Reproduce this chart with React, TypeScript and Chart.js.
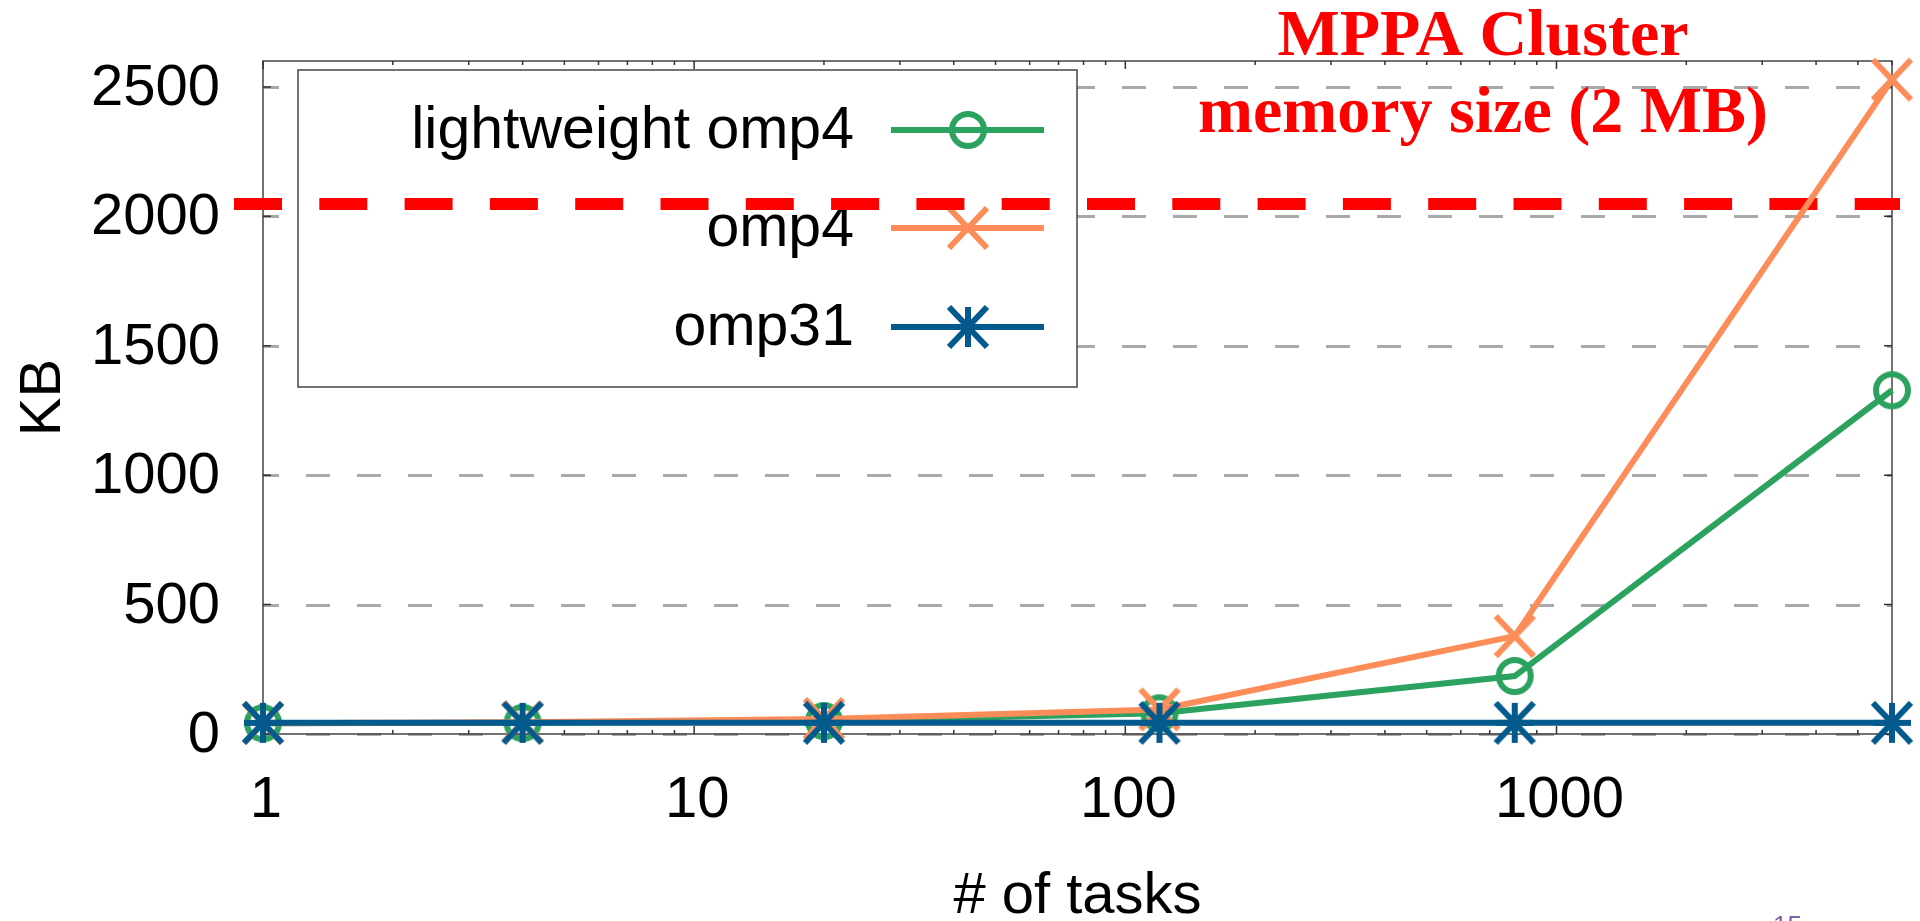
import React, { useEffect, useRef } from 'react';
import { Chart, registerables } from 'chart.js';

Chart.register(...registerables);

// ---------- data ----------
const taskCounts = [1, 4, 20, 120, 800, 6000];
const lightweightOmp4 = [42, 43, 50, 80, 224, 1328];
const omp4 = [42, 45, 58, 95, 378, 2528];
const omp31 = [43, 43, 43, 43, 43, 43];

const seriesLabels = ['lightweight omp4', 'omp4', 'omp31'];
const seriesColors = ['#2ca25f', '#fc8d59', '#045a8d'];
const seriesMarkers = ['circle', 'cross', 'asterisk'];

const yTicks = [0, 500, 1000, 1500, 2000, 2500];
const xMajorTicks = [1, 10, 100, 1000];
const memoryLimitKB = 2048;
const titleLines = ['MPPA Cluster', 'memory size (2 MB)'];
const xTitle = '# of tasks';
const yTitle = 'KB';
const pageNumber = '15';

// ---------- helpers ----------
function makeMarker(kind: string, color: string): HTMLCanvasElement {
  const c = document.createElement('canvas');
  c.width = 48;
  c.height = 48;
  const ctx = c.getContext('2d')!;
  const m = 24;
  ctx.strokeStyle = color;
  ctx.lineCap = 'butt';
  ctx.beginPath();
  if (kind === 'circle') {
    ctx.lineWidth = 6;
    ctx.arc(m, m, 16, 0, Math.PI * 2);
  } else if (kind === 'cross') {
    ctx.lineWidth = 6;
    ctx.moveTo(m - 19, m - 20);
    ctx.lineTo(m + 19, m + 20);
    ctx.moveTo(m - 19, m + 20);
    ctx.lineTo(m + 19, m - 20);
  } else {
    ctx.lineWidth = 6;
    ctx.moveTo(m, m - 20);
    ctx.lineTo(m, m + 20);
    ctx.moveTo(m - 19, m);
    ctx.lineTo(m + 19, m);
    ctx.moveTo(m - 19, m - 20);
    ctx.lineTo(m + 19, m + 20);
    ctx.moveTo(m - 19, m + 20);
    ctx.lineTo(m + 19, m - 20);
  }
  ctx.stroke();
  return c;
}

const SANS = "'Liberation Sans', Arial, sans-serif";
const SERIF = "'Liberation Serif', 'Times New Roman', serif";

export default function App() {
  const ref = useRef<HTMLCanvasElement>(null);

  useEffect(() => {
    const canvas = ref.current!;
    const markers = seriesMarkers.map((k, i) => makeMarker(k, seriesColors[i]));
    const seriesValues = [lightweightOmp4, omp4, omp31];

    const decorPlugin = {
      id: 'decor',
      beforeDatasetsDraw(chart: any) {
        const ctx = chart.ctx as CanvasRenderingContext2D;
        const area = chart.chartArea;
        const xs = chart.scales.x;
        const ys = chart.scales.y;
        ctx.save();
        // dashed horizontal grid lines
        ctx.strokeStyle = '#aaaaaa';
        ctx.lineWidth = 3;
        ctx.setLineDash([24, 27]);
        ctx.lineDashOffset = 8;
        for (const v of yTicks) {
          const y = Math.round(ys.getPixelForValue(v)) + 0.5;
          ctx.beginPath();
          ctx.moveTo(area.left, y);
          ctx.lineTo(area.right, y);
          ctx.stroke();
        }
        ctx.setLineDash([]);

        // frame
        ctx.strokeStyle = '#444';
        ctx.lineWidth = 1.5;
        ctx.strokeRect(area.left, area.top, area.right - area.left, area.bottom - area.top);

        // y ticks (inward, both sides)
        ctx.strokeStyle = '#333';
        for (const v of yTicks) {
          const y = ys.getPixelForValue(v);
          ctx.beginPath();
          ctx.moveTo(area.left, y);
          ctx.lineTo(area.left + 8, y);
          ctx.moveTo(area.right, y);
          ctx.lineTo(area.right - 8, y);
          ctx.stroke();
        }
        // x ticks (log, major + minor, inward on bottom and top)
        const xmax = xs.max;
        for (const d of xMajorTicks) {
          for (let k = 1; k <= 9; k++) {
            const v = d * k;
            if (v > xmax) continue;
            const x = xs.getPixelForValue(v);
            const len = k === 1 ? 8 : 4;
            ctx.beginPath();
            ctx.moveTo(x, area.bottom);
            ctx.lineTo(x, area.bottom - len);
            ctx.moveTo(x, area.top);
            ctx.lineTo(x, area.top + len);
            ctx.stroke();
          }
        }

        // legend box
        const lx = 298, ly = 70, lw = 779, lh = 317;
        ctx.fillStyle = '#ffffff';
        ctx.fillRect(lx, ly, lw, lh);
        ctx.strokeStyle = '#444';
        ctx.lineWidth = 1.5;
        ctx.strokeRect(lx, ly, lw, lh);
        const rowY = [130, 228, 327];
        ctx.font = `59px ${SANS}`;
        ctx.textAlign = 'right';
        ctx.textBaseline = 'alphabetic';
        for (let i = 0; i < seriesLabels.length; i++) {
          ctx.fillStyle = '#000';
          ctx.fillText(seriesLabels[i], 854, rowY[i] + 18);
          ctx.strokeStyle = seriesColors[i];
          ctx.lineWidth = 6;
          ctx.beginPath();
          ctx.moveTo(891, rowY[i]);
          ctx.lineTo(1044, rowY[i]);
          ctx.stroke();
          const mk = markers[i];
          ctx.drawImage(mk, 968 - mk.width / 2, rowY[i] - mk.height / 2);
        }

        // memory limit red dashed line
        const my = ys.getPixelForValue(memoryLimitKB);
        ctx.strokeStyle = '#ff0000';
        ctx.lineWidth = 12;
        ctx.setLineDash([48, 37.3]);
        ctx.lineDashOffset = 0;
        ctx.beginPath();
        ctx.moveTo(234, my);
        ctx.lineTo(1900, my);
        ctx.stroke();
        ctx.restore();
      },
      afterDraw(chart: any) {
        const ctx = chart.ctx as CanvasRenderingContext2D;
        const area = chart.chartArea;
        const xs = chart.scales.x;
        const ys = chart.scales.y;
        ctx.save();
        ctx.fillStyle = '#000';
        ctx.font = `58px ${SANS}`;
        // y tick labels
        ctx.textAlign = 'right';
        ctx.textBaseline = 'alphabetic';
        for (const v of yTicks) {
          ctx.fillText(String(v), 220, ys.getPixelForValue(v) + 18);
        }
        // x tick labels
        ctx.textAlign = 'center';
        for (const v of xMajorTicks) {
          ctx.fillText(String(v), xs.getPixelForValue(v) + 3, 817);
        }
        // axis titles
        ctx.fillText(xTitle, (area.left + area.right) / 2, 913);
        ctx.save();
        ctx.translate(60, (area.top + area.bottom) / 2);
        ctx.rotate(-Math.PI / 2);
        ctx.fillText(yTitle, 0, 0);
        ctx.restore();

        // red annotation text
        ctx.fillStyle = '#ff0000';
        ctx.font = `bold 66px ${SERIF}`;
        ctx.textAlign = 'center';
        ctx.fillText(titleLines[0], 1483, 55);
        ctx.fillText(titleLines[1], 1483, 132);

        // page number
        ctx.fillStyle = '#8064a2';
        ctx.font = `26px ${SANS}`;
        ctx.textAlign = 'left';
        ctx.fillText(pageNumber, 1773, 934);
        ctx.restore();
      },
    };

    const chart = new Chart(canvas, {
      type: 'line',
      data: {
        datasets: seriesLabels.map((label, i) => ({
          label,
          data: taskCounts.map((t, j) => ({ x: t, y: seriesValues[i][j] })),
          borderColor: seriesColors[i],
          backgroundColor: seriesColors[i],
          borderWidth: 6,
          pointStyle: markers[i],
          pointRadius: 20,
          pointHoverRadius: 20,
          tension: 0,
          fill: false,
          clip: false as any,
          order: 3 - i,
        })),
      },
      options: {
        responsive: false,
        animation: false,
        devicePixelRatio: 1,
        layout: { padding: { left: 263, top: 61, right: 28, bottom: 187 } },
        scales: {
          x: { type: 'logarithmic', min: 1, max: 6000, display: false },
          y: { type: 'linear', min: 0, max: 2600, display: false },
        },
        plugins: {
          legend: { display: false },
          tooltip: { enabled: false },
        },
        events: [],
      },
      plugins: [decorPlugin],
    });
    return () => chart.destroy();
  }, []);

  return (
    <div style={{ position: 'absolute', left: 0, top: 0, width: 1920, height: 921, background: '#fff', overflow: 'hidden' }}>
      <canvas ref={ref} width={1920} height={921} style={{ display: 'block' }} />
    </div>
  );
}
